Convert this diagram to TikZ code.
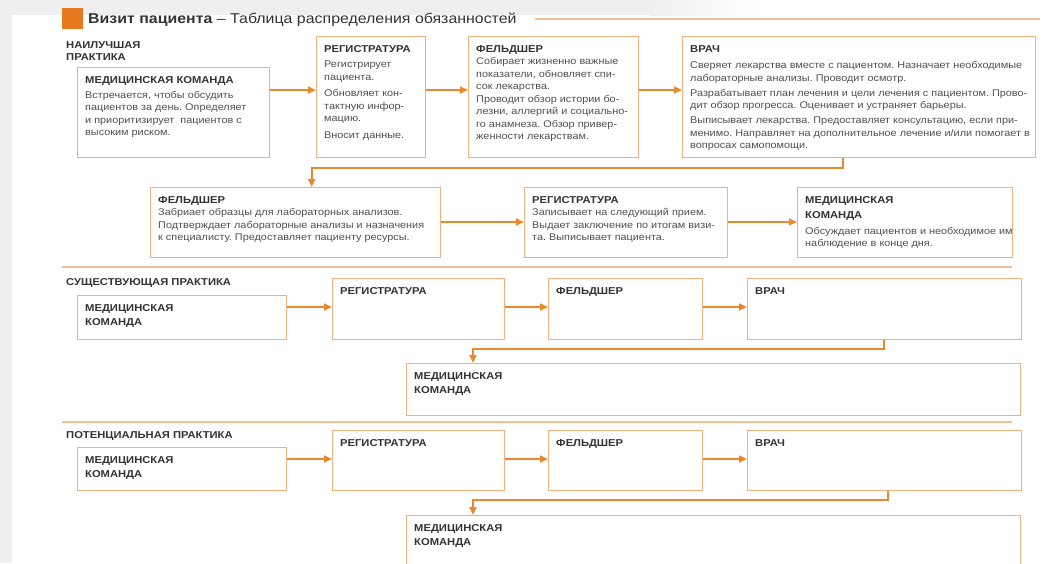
\documentclass[tikz,border=0pt]{standalone}
\usepackage{fontspec}
\setmainfont[FakeStretch=1.12]{Liberation Sans}
\usetikzlibrary{arrows.meta,calc}
\definecolor{boxc}{HTML}{F4B07C}
\definecolor{arrc}{HTML}{E9892E}
\definecolor{sepc}{HTML}{F5BE92}
\definecolor{sqc}{HTML}{E8781E}
\definecolor{hdc}{HTML}{333333}
\definecolor{bdc}{HTML}{505050}
\definecolor{bgc}{HTML}{EFEFEF}
\newcommand\hd[1]{{\fontsize{10}{12.5}\selectfont\bfseries\color{hdc}#1}}
\tikzset{
 box/.style={draw=boxc, line width=1.3pt, fill=white, anchor=north west, inner sep=0pt},
 txt/.style={anchor=north west, inner sep=0pt, align=left, text=bdc, font=\fontsize{9.7}{12.5}\selectfont\frenchspacing},
 arr/.style={draw=arrc, line width=2pt, -{Triangle[length=8pt,width=7pt]}},
 sep/.style={draw=sepc, line width=1.5pt},
 lbl/.style={anchor=north west, inner sep=0pt, font=\fontsize{10}{12}\selectfont\bfseries, text=hdc, align=left},
}
\newcommand\bx[6]{%
 \pgfmathsetmacro\bw{#4-#2}%
 \pgfmathsetmacro\bh{#5-#3}%
 \node[box, minimum width=\bw pt, minimum height=\bh pt] (#1) at (#2,#3) {};
 \node[txt] (#1t) at ([shift={(8pt,-9pt)}]#1.north west) {#6};}
\begin{document}
\begin{tikzpicture}[x=1pt,y=-1pt]
\useasboundingbox (0,0) rectangle (1048,563);
\clip (0,0) rectangle (1048,563);
\fill[bgc] (0,0) rectangle (12,563);
\fill[bgc] (0,0) rectangle (650,15);
\shade[left color=bgc,right color=white] (650,0) rectangle (760,15);
% title
\node[fill=sqc, minimum size=21pt, inner sep=0pt, anchor=north west] (sq) at (62,8) {};
\node[anchor=base west, inner sep=0pt, font=\fontsize{14.2}{16}\selectfont, text=hdc] (title) at (88,23) {\textbf{Визит пациента} – Таблица распределения обязанностей};
\coordinate (tl) at (1040,19);
\draw[sep, line width=1.2pt] ([xshift=18pt]title.east |- tl) -- (tl);
% labels
\node[lbl] (l1) at (66,41) {НАИЛУЧШАЯ\\ПРАКТИКА};
\node[lbl] (l2) at (66,278) {СУЩЕСТВУЮЩАЯ ПРАКТИКА};
\node[lbl] (l3) at (66,431) {ПОТЕНЦИАЛЬНАЯ ПРАКТИКА};
% row 1
\bx{mk1}{77}{67}{269}{157}{\hd{МЕДИЦИНСКАЯ КОМАНДА}\\[2.5pt]Встречается, чтобы обсудить\\пациентов за день. Определяет\\и приоритизирует\ \ пациентов с\\высоким риском.}
\bx{reg1}{316}{36}{425}{157}{\hd{РЕГИСТРАТУРА}\\[3pt]Регистрирует\\пациента.\\[4pt]Обновляет кон-\\тактную инфор-\\мацию.\\[4pt]Вносит данные.}
\bx{fel1}{468}{36}{638}{157}{\hd{ФЕЛЬДШЕР}\\Собирает жизненно важные\\показатели, обновляет спи-\\сок лекарства.\\Проводит обзор истории бо-\\лезни, аллергий и социально-\\го анамнеза. Обзор привер-\\женности лекарствам.}
\bx{vr1}{682}{36}{1035}{157}{\hd{ВРАЧ}\\[4pt]Сверяет лекарства вместе с пациентом. Назначает необходимые\\лабораторные анализы. Проводит осмотр.\\[2.5pt]Разрабатывает план лечения и цели лечения с пациентом. Прово-\\дит обзор прогресса. Оценивает и устраняет барьеры.\\[2.5pt]Выписывает лекарства. Предоставляет консультацию, если при-\\менимо. Направляет на дополнительное лечение и/или помогает в\\вопросах самопомощи.}
% row 2
\bx{fel2}{150}{187}{440}{257}{\hd{ФЕЛЬДШЕР}\\Забриает образцы для лабораторных анализов.\\Подтверждает лабораторные анализы и назначения\\к специалисту. Предоставляет пациенту ресурсы.}
\bx{reg2}{524}{187}{727}{257}{\hd{РЕГИСТРАТУРА}\\Записывает на следующий прием.\\Выдает заключение по итогам визи-\\та. Выписывает пациента.}
\bx{mk2}{797}{187}{1012}{257}{\hd{МЕДИЦИНСКАЯ}\\[3pt]\hd{КОМАНДА}\\[3pt]Обсуждает пациентов и необходимое им\\наблюдение в конце дня.}
\draw[arr] ([yshift=-23pt]mk1.north east) coordinate (a1) -- (a1 -| reg1.west);
\draw[arr] ([yshift=-54pt]reg1.north east) coordinate (a2) -- (a2 -| fel1.west);
\draw[arr] ([yshift=-54pt]fel1.north east) coordinate (a3) -- (a3 -| vr1.west);
\draw[arr] ([xshift=-16pt]vr1.south) -- ++(0,10) -| ([xshift=16pt]fel2.north);
\draw[arr] ([yshift=-35pt]fel2.north east) coordinate (a4) -- (a4 -| reg2.west);
\draw[arr] ([yshift=-35pt]reg2.north east) coordinate (a5) -- (a5 -| mk2.west);
\coordinate (s1a) at (62,267); \coordinate (s1b) at (1012,267);
\draw[sep] (s1a) -- (s1b);
% row 3
\bx{mk3}{77}{295}{286}{339}{\hd{МЕДИЦИНСКАЯ}\\[1.5pt]\hd{КОМАНДА}}
\bx{reg3}{332}{278}{504}{339}{\hd{РЕГИСТРАТУРА}}
\bx{fel3}{548}{278}{702}{339}{\hd{ФЕЛЬДШЕР}}
\bx{vr3}{747}{278}{1021}{339}{\hd{ВРАЧ}}
\bx{mk4}{406}{363}{1020}{415}{\hd{МЕДИЦИНСКАЯ}\\[1.5pt]\hd{КОМАНДА}}
\draw[arr] ([yshift=-12pt]mk3.north east) coordinate (b1) -- (b1 -| reg3.west);
\draw[arr] ([yshift=-29pt]reg3.north east) coordinate (b2) -- (b2 -| fel3.west);
\draw[arr] ([yshift=-29pt]fel3.north east) coordinate (b3) -- (b3 -| vr3.west);
\draw[arr] ([xshift=-1pt]vr3.south) -- ++(0,9) -| ([xshift=67pt]mk4.north west);
\coordinate (s2a) at (62,422); \coordinate (s2b) at (1012,422);
\draw[sep] (s2a) -- (s2b);
% row 4
\bx{mk5}{77}{447}{286}{490}{\hd{МЕДИЦИНСКАЯ}\\[1.5pt]\hd{КОМАНДА}}
\bx{reg5}{332}{430}{504}{490}{\hd{РЕГИСТРАТУРА}}
\bx{fel5}{548}{430}{702}{490}{\hd{ФЕЛЬДШЕР}}
\bx{vr5}{747}{430}{1021}{490}{\hd{ВРАЧ}}
\bx{mk6}{406}{515}{1020}{580}{\hd{МЕДИЦИНСКАЯ}\\[1.5pt]\hd{КОМАНДА}}
\draw[arr] ([yshift=-12pt]mk5.north east) coordinate (c1) -- (c1 -| reg5.west);
\draw[arr] ([yshift=-29pt]reg5.north east) coordinate (c2) -- (c2 -| fel5.west);
\draw[arr] ([yshift=-29pt]fel5.north east) coordinate (c3) -- (c3 -| vr5.west);
\draw[arr] ([xshift=3pt]vr5.south) -- ++(0,9) -| ([xshift=67pt]mk6.north west);
\end{tikzpicture}
\end{document}
